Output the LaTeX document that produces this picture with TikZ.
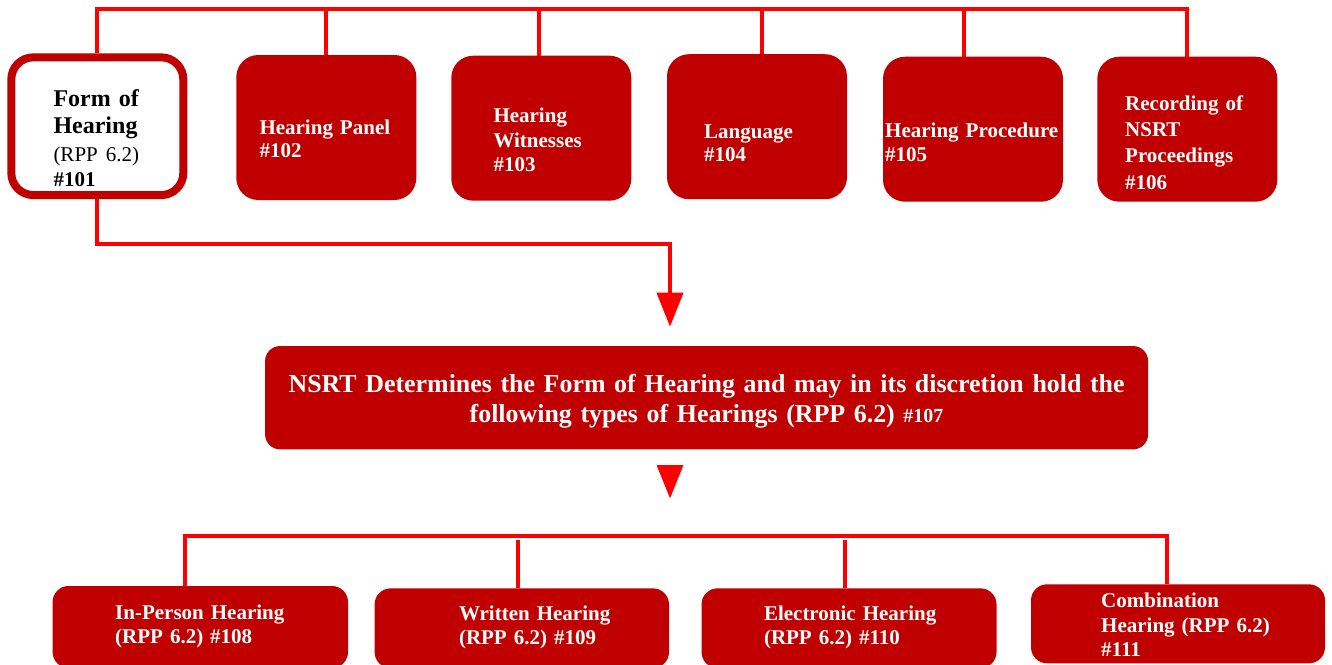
\documentclass[tikz,border=0pt]{standalone}
\usepackage{fontspec}
\setmainfont{Liberation Serif}
\usetikzlibrary{arrows.meta}
\definecolor{boxred}{RGB}{192,0,0}
\definecolor{linered}{RGB}{255,0,0}
\begin{document}
\begin{tikzpicture}[x=1pt,y=-1pt,
  redbox/.style={fill=boxred,draw=none,rounded corners=22pt,inner sep=0pt,outer sep=0pt,
    minimum width=180pt,minimum height=145pt},
  wbox/.style={fill=white,draw=boxred,line width=8pt,rounded corners=22pt,inner sep=0pt,
    minimum width=172pt,minimum height=137.7pt},
  midbox/.style={fill=boxred,draw=none,rounded corners=15pt,inner sep=0pt,outer sep=0pt,
    minimum width=883pt,minimum height=103.3pt},
  lowbox/.style={fill=boxred,draw=none,rounded corners=16pt,inner sep=0pt,outer sep=0pt,
    minimum width=295pt},
  wtxt/.style={text=white,inner sep=0pt,anchor=base west,align=left,text width=260pt},
  conn/.style={draw=linered,line width=4pt},
]
\useasboundingbox (0,0) rectangle (1332,664);

% top row boxes
\node[wbox] (b1) at (97.3,126.2) {};
\node[redbox] (b2) at (326.3,127.5) {};
\node[redbox] (b3) at (541.3,128.2) {};
\node[redbox] (b4) at (757,126.7) {};
\node[redbox] (b5) at (973,129.2) {};
\node[redbox] (b6) at (1187.3,129.2) {};

% top texts
\node[inner sep=0pt,anchor=base west,align=left,text width=160pt,
  font=\bfseries\fontsize{24}{27.3}\selectfont] (t1) at (53.3,106)
  {Form of\\Hearing\\[1.1pt]{\mdseries\fontsize{21}{27.3}\selectfont (RPP 6.2)}\\[-3pt]{\fontsize{21}{27.3}\selectfont \#101}};
\node[wtxt,font=\bfseries\fontsize{21}{23.4}\selectfont] (t2) at (259.3,134) {Hearing Panel\\\#102};
\node[wtxt,font=\bfseries\fontsize{21}{24.5}\selectfont] (t3) at (493.3,122.7) {Hearing\\Witnesses\\\#103};
\node[wtxt,font=\bfseries\fontsize{21}{23.4}\selectfont] (t4) at (704,138.3) {Language\\\#104};
\node[wtxt,font=\bfseries\fontsize{21}{23.4}\selectfont] (t5) at (885,137.7) {Hearing Procedure\\\#105};
\node[wtxt,font=\bfseries\fontsize{21}{26.1}\selectfont] (t6) at (1125,110.7) {Recording of\\NSRT\\Proceedings\\\#106};

% top connector bar
\coordinate (j1) at (96.7,9);
\coordinate (j2) at (326,9);
\coordinate (j3) at (538.7,9);
\coordinate (j4) at (762,9);
\coordinate (j5) at (964.3,9);
\coordinate (j6) at (1186.7,9);
\draw[conn] (b1.north -| j1) -- (j1) -- (j6) -- (b6.north -| j6);
\draw[conn] (j2) -- (b2.north -| j2);
\draw[conn] (j3) -- (b3.north -| j3);
\draw[conn] (j4) -- (b4.north -| j4);
\draw[conn] (j5) -- (b5.north -| j5);

% middle box
\node[midbox] (m) at (706.6,397.7) {};
\node[text=white,inner sep=0pt,anchor=base,align=center,text width=880pt,
  font=\bfseries\fontsize{25.9}{30}\selectfont] (mt) at (706.6,392.7)
  {NSRT Determines the Form of Hearing and may in its discretion hold the\\
   following types of Hearings (RPP 6.2) {\fontsize{20}{30}\selectfont\#107}};

% arrow from box 1 to middle box
\coordinate (k1) at (670,244);
\coordinate (a1) at (670,326.7);
\draw[conn,-{Triangle[length=34pt,width=26pt]}] (b1.south) -- (b1.south |- k1) -- (k1) -- (a1);

% second arrow head
\fill[linered] (656.5,465) -- (683.5,465) -- (670,498.3) -- cycle;

% bottom boxes
\node[lowbox,minimum width=295.4pt,minimum height=82pt] (b7) at (200.3,627) {};
\node[lowbox,minimum width=294.4pt,minimum height=79.7pt] (b8) at (521.8,628.2) {};
\node[lowbox,minimum width=295pt,minimum height=79.7pt] (b9) at (849,628.2) {};
\node[lowbox,minimum width=294pt,minimum height=79pt] (b10) at (1178,623.8) {};

\node[wtxt,font=\bfseries\fontsize{21}{24.2}\selectfont] (t7) at (115,619) {In-Person Hearing\\(RPP 6.2) \#108};
\node[wtxt,font=\bfseries\fontsize{21}{24.2}\selectfont] (t8) at (458.8,620.7) {Written Hearing\\(RPP 6.2) \#109};
\node[wtxt,font=\bfseries\fontsize{21}{23.5}\selectfont] (t9) at (763.8,620.7) {Electronic Hearing\\(RPP 6.2) \#110};
\node[wtxt,font=\bfseries\fontsize{21}{24.7}\selectfont] (t10) at (1101,607.3) {Combination\\Hearing (RPP 6.2)\\\#111};

% bottom connector bar
\coordinate (j7) at (185.2,536);
\coordinate (j10) at (1166.6,536);
\coordinate (j8) at (517.7,540);
\coordinate (j9) at (845,540);
\draw[conn] (b7.north -| j7) -- (j7) -- (j10) -- (b10.north -| j10);
\draw[conn] (j8) -- (b8.north -| j8);
\draw[conn] (j9) -- (b9.north -| j9);
\end{tikzpicture}
\end{document}
